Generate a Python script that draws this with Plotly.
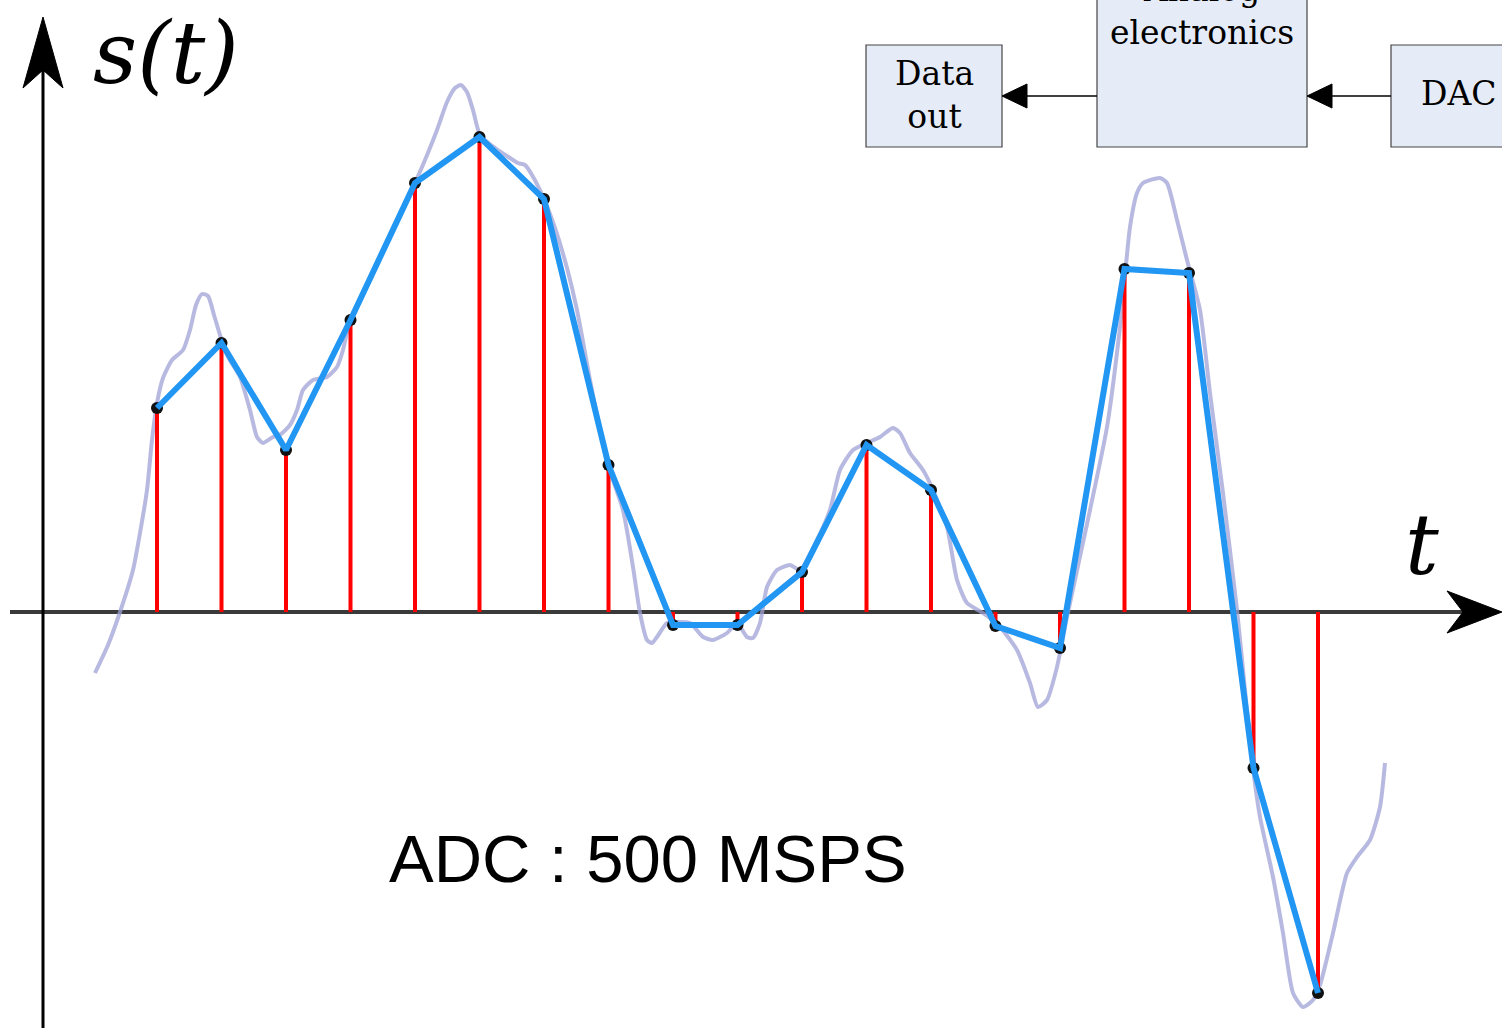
import plotly.graph_objects as go

# ---- data (t: arbitrary time units, s: arbitrary amplitude units) ----
sample_t = [114, 178.5, 243, 307.5, 372, 436.5, 501, 565.5, 630, 694.5,
            759, 823.5, 888, 952.5, 1017, 1081.5, 1146, 1210.5, 1275]
sample_s = [204, 269, 162, 292, 429, 475, 413, 147, -13, -13,
            40, 167, 122, -14, -36, 343, 339, -156, -381]

analog_t = [52, 65, 77, 90, 97, 104, 109, 114, 120, 129, 140, 147, 153, 159, 165,
            171, 177, 185, 197, 207, 214, 220, 230, 238, 247, 254, 260, 270, 284,
            294, 300, 307, 322, 337, 355, 372, 382, 394, 404, 412, 418, 424, 430,
            437, 452, 467, 475, 482, 489, 501, 512, 524, 534, 547, 557, 565, 580,
            590, 597, 604, 609, 614, 624, 634, 647, 660, 670, 684, 694, 704, 710,
            717, 724, 734, 747, 757, 774, 787, 797, 810, 824, 837, 850, 857, 867,
            880, 890, 904, 914, 924, 940, 957, 974, 987, 995, 1004, 1014, 1024,
            1047, 1064, 1077, 1087, 1094, 1100, 1117, 1124, 1134, 1144, 1157, 1167,
            1180, 1194, 1202, 1210, 1217, 1230, 1240, 1250, 1260, 1270, 1277, 1290,
            1304, 1314, 1327, 1337, 1342]
analog_s = [-61, -33, 0, 42, 79, 122, 172, 209, 234, 252, 262, 282, 307, 318, 316,
            297, 277, 255, 235, 202, 175, 169, 175, 178, 187, 202, 222, 232, 235,
            245, 262, 292, 322, 354, 392, 429, 452, 482, 510, 524, 527, 520, 502,
            477, 464, 454, 449, 447, 437, 413, 384, 344, 302, 232, 182, 147, 102,
            45, -1, -28, -31, -25, -11, -10, -11, -25, -28, -21, -11, -25, -26,
            -11, 25, 42, 47, 42, 72, 102, 142, 162, 169, 175, 184, 179, 159,
            142, 122, 85, 32, 9, -1, -15, -38, -71, -95, -88, -55, -5,
            102, 185, 285, 385, 419, 429, 434, 429, 392, 352, 302, 219,
            119, 2, -78, -156, -205, -265, -321, -381, -395, -388, -373, -321,
            -261, -245, -228, -195, -151]

axis_label_y = "s(t)"
axis_label_x = "t"
adc_label = "ADC : 500 MSPS"
block_labels = ["Data<br>out", "Analog<br>electronics", "DAC"]

# ---- figure ----
fig = go.Figure()

# analog signal
fig.add_trace(go.Scatter(x=analog_t, y=analog_s, mode="lines",
                         line=dict(color="rgba(160,162,214,0.75)", width=4, shape="spline", smoothing=0.6),
                         hoverinfo="skip"))

# red stems
stem_x, stem_y = [], []
for t, s in zip(sample_t, sample_s):
    stem_x += [t, t, None]
    stem_y += [0, s, None]
fig.add_trace(go.Scatter(x=stem_x, y=stem_y, mode="lines",
                         line=dict(color="#ff0000", width=4), hoverinfo="skip"))

# sample dots
fig.add_trace(go.Scatter(x=sample_t, y=sample_s, mode="markers",
                         marker=dict(color="#111111", size=12), hoverinfo="skip"))
# reconstructed line
fig.add_trace(go.Scatter(x=sample_t, y=sample_s, mode="lines",
                         line=dict(color="#2196f3", width=6), hoverinfo="skip"))

shapes = []
# horizontal axis
shapes.append(dict(type="line", xref="x", yref="y", x0=-33, y0=0, x1=1420, y1=0,
                   line=dict(color="#3a3a3a", width=4), layer="below"))
shapes.append(dict(type="path", xref="x", yref="y",
                   path="M 1459,0 L 1404,21 L 1420,0 L 1404,-21 Z",
                   fillcolor="black", line=dict(color="black", width=1)))
# vertical axis
shapes.append(dict(type="line", xref="x", yref="y", x0=0, y0=-420, x1=0, y1=560,
                   line=dict(color="black", width=3)))
shapes.append(dict(type="path", xref="x", yref="y",
                   path="M 0,595 L -20,524 L 0,542 L 20,524 Z",
                   fillcolor="black", line=dict(color="black", width=1)))

# block diagram boxes
box_fill = "#e6ecf7"
box_line = dict(color="#444444", width=1.2)
shapes.append(dict(type="rect", xref="x", yref="y", x0=823, x1=959, y0=465, y1=567,
                   fillcolor=box_fill, line=box_line))
shapes.append(dict(type="rect", xref="x", yref="y", x0=1054, x1=1264, y0=465, y1=660,
                   fillcolor=box_fill, line=box_line))
shapes.append(dict(type="rect", xref="x", yref="y", x0=1348, x1=1480, y0=465, y1=567,
                   fillcolor=box_fill, line=box_line))
# connecting arrows
shapes.append(dict(type="line", xref="x", yref="y", x0=1054, y0=516, x1=980, y1=516,
                   line=dict(color="black", width=1.5)))
shapes.append(dict(type="path", xref="x", yref="y",
                   path="M 959,516 L 984,528 L 984,504 Z", fillcolor="black",
                   line=dict(color="black", width=1)))
shapes.append(dict(type="line", xref="x", yref="y", x0=1348, y0=516, x1=1285, y1=516,
                   line=dict(color="black", width=1.5)))
shapes.append(dict(type="path", xref="x", yref="y",
                   path="M 1264,516 L 1289,528 L 1289,504 Z", fillcolor="black",
                   line=dict(color="black", width=1)))

annotations = [
    dict(x=48, y=611, xref="x", yref="y", text="<i>" + axis_label_y + "</i>",
         showarrow=False, xanchor="left", yanchor="top",
         font=dict(family="DejaVu Serif", size=86, color="black")),
    dict(x=1379, y=67, xref="x", yref="y", text="<i>" + axis_label_x + "</i>",
         showarrow=False, xanchor="center", yanchor="middle",
         font=dict(family="DejaVu Serif", size=84, color="black")),
    dict(x=604.5, y=-246, xref="x", yref="y", text=adc_label,
         showarrow=False, xanchor="center", yanchor="middle",
         font=dict(family="Liberation Sans, Arial", size=67, color="black")),
    dict(x=891, y=517, xref="x", yref="y", text=block_labels[0],
         showarrow=False, xanchor="center", yanchor="middle",
         font=dict(family="DejaVu Serif", size=33, color="black")),
    dict(x=1159, y=601, xref="x", yref="y", text=block_labels[1],
         showarrow=False, xanchor="center", yanchor="middle",
         font=dict(family="DejaVu Serif", size=33, color="black")),
    dict(x=1416, y=519, xref="x", yref="y", text=block_labels[2],
         showarrow=False, xanchor="center", yanchor="middle",
         font=dict(family="DejaVu Serif", size=33, color="black")),
]

fig.update_layout(
    width=1502, height=1028,
    margin=dict(l=0, r=0, t=0, b=0),
    paper_bgcolor="white", plot_bgcolor="white",
    showlegend=False,
    xaxis=dict(range=[-43, 1459], visible=False, fixedrange=True),
    yaxis=dict(range=[-416, 612], visible=False, fixedrange=True),
    shapes=shapes,
    annotations=annotations,
)

fig.write_html("out.html", config={"displayModeBar": False},
               post_script="document.body.style.margin='0';document.body.style.overflow='hidden';")
